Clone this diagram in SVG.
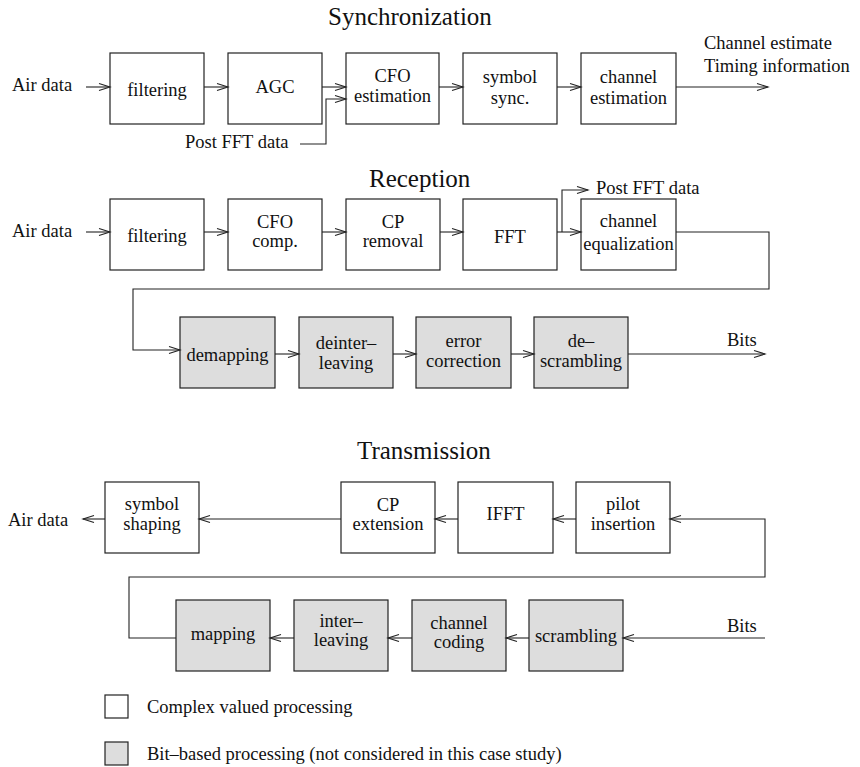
<svg xmlns="http://www.w3.org/2000/svg" width="860" height="767" viewBox="0 0 860 767">
  <style>
    .bx { fill: #ffffff; stroke: #222; stroke-width: 1.2; }
    .bit { fill: #dddddd; stroke: #222; stroke-width: 1.2; }
    .ln { fill: none; stroke: #222; stroke-width: 1.1; }
    .arr { fill: none; stroke: #222; stroke-width: 1.1; marker-end: url(#ah); }
    text { font-family: "Liberation Serif", "Times New Roman", serif; font-size: 18.5px; fill: #111; }
    .lbl { text-anchor: middle; }
    .title { font-size: 25px; }
  </style>
  <defs>
    <marker id="ah" markerWidth="12" markerHeight="8" refX="11" refY="3.5" orient="auto" markerUnits="userSpaceOnUse" style="overflow:visible">
      <path d="M0,0 L11,3.5 L0,7" fill="none" stroke="#222" stroke-width="1.1"/>
    </marker>
  </defs>
  <rect width="860" height="767" fill="#ffffff"/>

  <!-- Section titles -->
  <text class="title" x="328" y="25">Synchronization</text>
  <text class="title" x="369" y="187">Reception</text>
  <text class="title" x="357" y="459">Transmission</text>

  <!-- Free labels -->
  <text x="12" y="91">Air data</text>
  <text x="185" y="148">Post FFT data</text>
  <text x="704" y="49">Channel estimate</text>
  <text x="704" y="72">Timing information</text>
  <text x="12" y="237">Air data</text>
  <text x="596" y="194">Post FFT data</text>
  <text x="727" y="346">Bits</text>
  <text x="8" y="526">Air data</text>
  <text x="727" y="632">Bits</text>

  <!-- Synchronization chain -->
  <g id="sync-filtering"><rect class="bx" x="110" y="53" width="94" height="71"/><text class="lbl" x="157" y="96">filtering</text></g>
  <g id="sync-agc"><rect class="bx" x="228" y="53" width="94" height="71"/><text class="lbl" x="275" y="93">AGC</text></g>
  <g id="sync-cfo-est"><rect class="bx" x="346" y="53" width="93" height="71"/><text class="lbl" x="392.5" y="82">CFO</text><text class="lbl" x="392.5" y="102">estimation</text></g>
  <g id="sync-symbol"><rect class="bx" x="463" y="53" width="94" height="71"/><text class="lbl" x="510" y="83">symbol</text><text class="lbl" x="510" y="104">sync.</text></g>
  <g id="sync-chest"><rect class="bx" x="581" y="53" width="95" height="71"/><text class="lbl" x="628.5" y="83">channel</text><text class="lbl" x="628.5" y="104">estimation</text></g>

  <!-- Reception chain -->
  <g id="rx-filtering"><rect class="bx" x="110" y="199" width="94" height="71"/><text class="lbl" x="157" y="242">filtering</text></g>
  <g id="rx-cfo-comp"><rect class="bx" x="228" y="199" width="94" height="71"/><text class="lbl" x="275" y="228">CFO</text><text class="lbl" x="275" y="247">comp.</text></g>
  <g id="rx-cp-removal"><rect class="bx" x="346" y="199" width="94" height="71"/><text class="lbl" x="393" y="228">CP</text><text class="lbl" x="393" y="247">removal</text></g>
  <g id="rx-fft"><rect class="bx" x="463" y="199" width="94" height="71"/><text class="lbl" x="510" y="243">FFT</text></g>
  <g id="rx-equalization"><rect class="bx" x="581" y="199" width="95" height="71"/><text class="lbl" x="628.5" y="227">channel</text><text class="lbl" x="628.5" y="250">equalization</text></g>

  <g id="rx-demapping"><rect class="bit" x="180" y="317" width="95" height="71"/><text class="lbl" x="227.5" y="361">demapping</text></g>
  <g id="rx-deinterleaving"><rect class="bit" x="299" y="317" width="94" height="71"/><text class="lbl" x="346" y="349">deinter–</text><text class="lbl" x="346" y="369">leaving</text></g>
  <g id="rx-error-correction"><rect class="bit" x="416" y="317" width="95" height="71"/><text class="lbl" x="463.5" y="347">error</text><text class="lbl" x="463.5" y="367">correction</text></g>
  <g id="rx-descrambling"><rect class="bit" x="534" y="317" width="94" height="71"/><text class="lbl" x="581" y="347">de–</text><text class="lbl" x="581" y="367">scrambling</text></g>

  <!-- Transmission chain -->
  <g id="tx-symbol-shaping"><rect class="bx" x="105" y="482" width="94" height="71"/><text class="lbl" x="152" y="510">symbol</text><text class="lbl" x="152" y="530">shaping</text></g>
  <g id="tx-cp-extension"><rect class="bx" x="341" y="482" width="94" height="71"/><text class="lbl" x="388" y="511">CP</text><text class="lbl" x="388" y="530">extension</text></g>
  <g id="tx-ifft"><rect class="bx" x="458" y="482" width="95" height="71"/><text class="lbl" x="505.5" y="520">IFFT</text></g>
  <g id="tx-pilot"><rect class="bx" x="576" y="482" width="94" height="71"/><text class="lbl" x="623" y="510">pilot</text><text class="lbl" x="623" y="530">insertion</text></g>

  <g id="tx-mapping"><rect class="bit" x="176" y="600" width="94" height="71"/><text class="lbl" x="223" y="640">mapping</text></g>
  <g id="tx-interleaving"><rect class="bit" x="294" y="600" width="94" height="71"/><text class="lbl" x="341" y="627">inter–</text><text class="lbl" x="341" y="646">leaving</text></g>
  <g id="tx-channel-coding"><rect class="bit" x="412" y="600" width="94" height="71"/><text class="lbl" x="459" y="629">channel</text><text class="lbl" x="459" y="648">coding</text></g>
  <g id="tx-scrambling"><rect class="bit" x="529" y="600" width="94" height="71"/><text class="lbl" x="576" y="642">scrambling</text></g>

  <!-- Legend -->
  <g id="legend-complex"><rect class="bx" x="105" y="695" width="23" height="23"/><text x="147" y="713">Complex valued processing</text></g>
  <g id="legend-bit"><rect class="bit" x="105" y="742" width="23" height="23"/><text x="147" y="760">Bit–based processing (not considered in this case study)</text></g>

  <!-- Connectors -->
  <g id="connectors">
    <!-- synchronization -->
    <path class="arr" d="M86,87 H110"/>
    <path class="arr" d="M204,87 H228"/>
    <path class="arr" d="M322,87 H346"/>
    <path class="arr" d="M300,144 H326 V99 H346"/>
    <path class="arr" d="M439,87 H463"/>
    <path class="arr" d="M557,87 H581"/>
    <path class="arr" d="M676,87 H768"/>
    <!-- reception -->
    <path class="arr" d="M86,232 H110"/>
    <path class="arr" d="M204,232 H228"/>
    <path class="arr" d="M322,232 H346"/>
    <path class="arr" d="M440,232 H463"/>
    <path class="arr" d="M557,232 H581"/>
    <path class="arr" d="M562,232 V190 H588"/>
    <path class="arr" d="M676,232 H769 V289 H133 V350 H180"/>
    <path class="arr" d="M275,354 H299"/>
    <path class="arr" d="M393,354 H416"/>
    <path class="arr" d="M511,354 H534"/>
    <path class="arr" d="M628,354 H765"/>
    <!-- transmission -->
    <path class="arr" d="M765,638 H623"/>
    <path class="arr" d="M529,638 H506"/>
    <path class="arr" d="M412,638 H388"/>
    <path class="arr" d="M294,638 H270"/>
    <path class="arr" d="M176,638 H129 V577 H765 V519 H670"/>
    <path class="arr" d="M576,519 H553"/>
    <path class="arr" d="M458,519 H435"/>
    <path class="arr" d="M341,519 H199"/>
    <path class="arr" d="M105,519 H83"/>
  </g>
</svg>
